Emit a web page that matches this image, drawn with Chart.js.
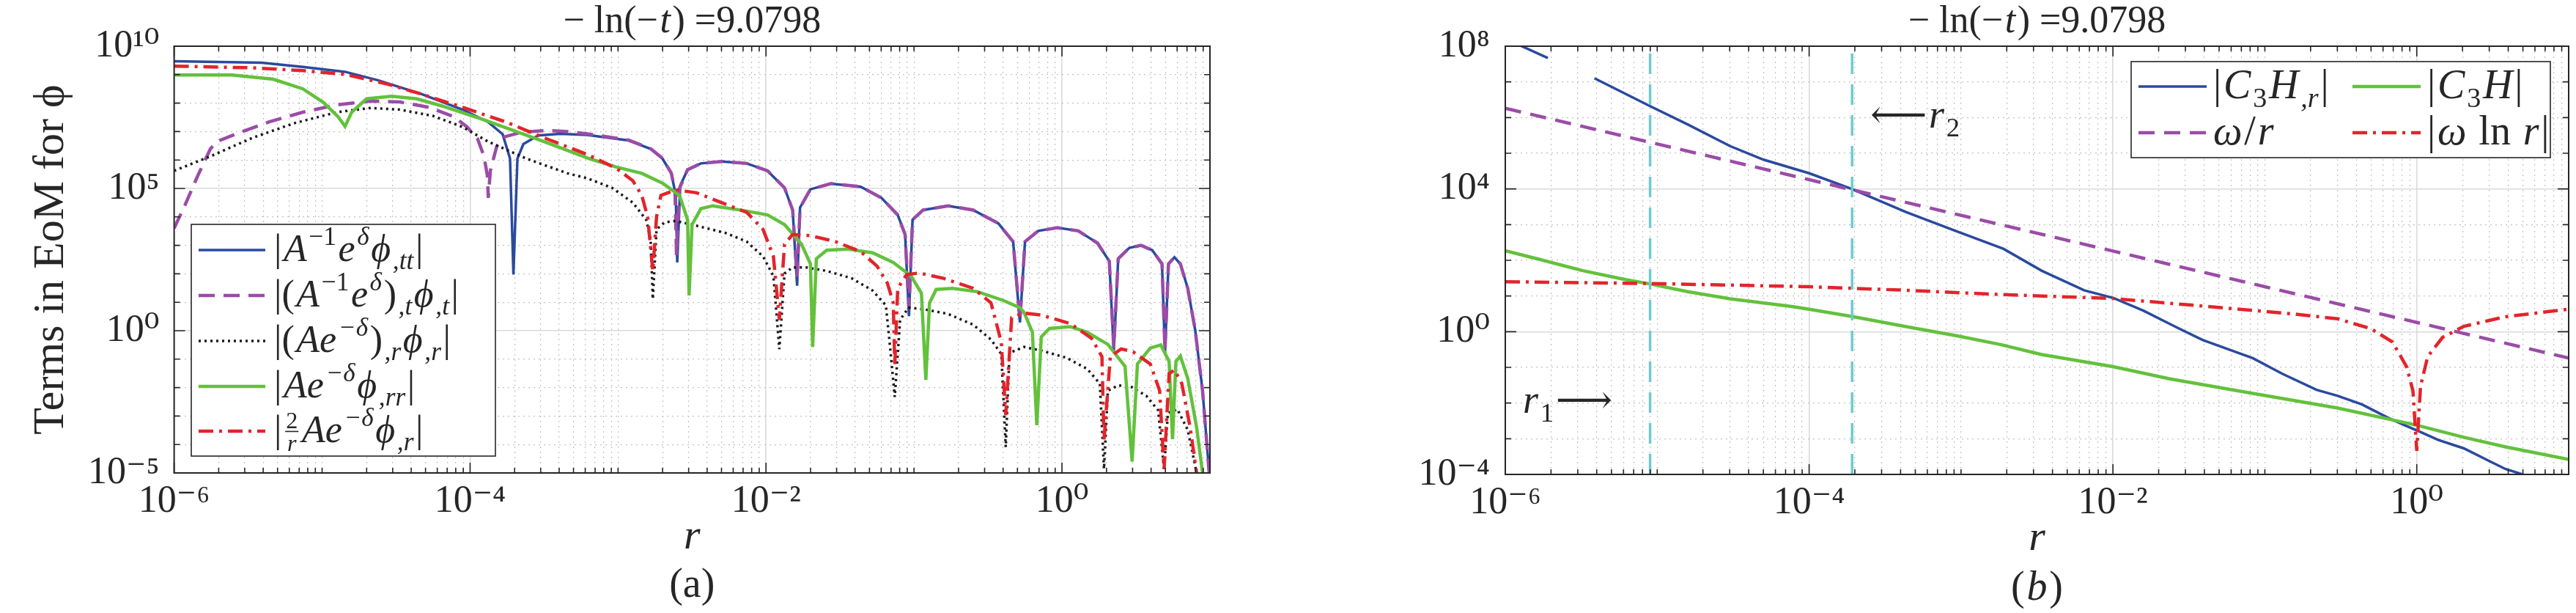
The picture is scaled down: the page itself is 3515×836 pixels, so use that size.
<!DOCTYPE html>
<html>
<head>
<meta charset="utf-8">
<script src="https://cdn.jsdelivr.net/npm/chart.js@4.4.0/dist/chart.umd.min.js"></script>
<style>
  html, body { margin: 0; padding: 0; background: #fff; }
  #wrap { position: relative; width: 3515px; height: 836px; overflow: hidden; }
  canvas { position: absolute; top: 0; }
</style>
</head>
<body>
<div id="wrap">
  <canvas id="chartA" width="1760" height="836" style="left:0"></canvas>
  <canvas id="chartB" width="1755" height="836" style="left:1760px"></canvas>
</div>
<script>
const INK = '#262626';
const SERIF = '"Liberation Serif", "DejaVu Serif", "DejaVu Sans", serif';
const MAJOR = '#dadada';
const MINOR = '#c2c2c2';

// tick labels (decade exponents that carry a label)
const xTickExp = [-6, -4, -2, 0];
const yTickExpA = [-5, 0, 5, 10];
const yTickExpB = [-4, 0, 4, 8];

// ---- panel (a): pairs of [log10 r, log10 |term|] ----
const tPhiTT = [[-6, 9.47], [-5.41, 9.42], [-5.13, 9.27], [-4.845, 9.10], [-4.62, 8.80], [-4.33, 8.32],
  [-4.05, 7.77], [-3.88, 7.34], [-3.78, 6.91], [-3.73, 6.05], [-3.707, 1.97], [-3.68, 6.05], [-3.64, 6.56],
  [-3.54, 6.86], [-3.39, 6.92], [-3.21, 6.88], [-2.93, 6.69], [-2.78, 6.39], [-2.70, 6.05], [-2.64, 5.53],
  [-2.61, 4.76], [-2.60, 2.40], [-2.58, 5.10], [-2.53, 5.66], [-2.44, 5.88], [-2.30, 5.95], [-2.13, 5.88],
  [-1.99, 5.62], [-1.875, 5.02], [-1.82, 4.24], [-1.79, 1.58], [-1.77, 4.33], [-1.70, 4.97], [-1.56, 5.17],
  [-1.36, 5.06], [-1.22, 4.67], [-1.11, 4.07], [-1.06, 3.38], [-1.034, 0.51], [-1.01, 3.90], [-0.94, 4.24],
  [-0.77, 4.39], [-0.60, 4.24], [-0.43, 3.77], [-0.33, 3.13], [-0.284, 0.29], [-0.25, 3.13], [-0.16, 3.51],
  [-0.03, 3.62], [0.11, 3.51], [0.24, 3.08], [0.32, 2.44], [0.35, -0.74], [0.38, 2.53], [0.455, 2.91],
  [0.534, 3.0], [0.61, 2.83], [0.676, 2.35], [0.696, -0.78], [0.72, 2.35], [0.76, 2.58], [0.80, 2.35],
  [0.85, 1.49], [0.90, 0.03], [0.95, -2.11], [0.995, -5]];

const tA1edT = [[-6, 3.60], [-5.926, 4.42], [-5.84, 5.45], [-5.755, 6.39], [-5.71, 6.65], [-5.585, 6.91],
  [-5.357, 7.34], [-5.13, 7.68], [-4.90, 7.94], [-4.674, 8.07], [-4.475, 8.04], [-4.276, 7.85],
  [-4.105, 7.51], [-4.02, 7.16], [-3.949, 6.74], [-3.906, 6.13], [-3.883, 5.45], [-3.877, 4.67],
  [-3.863, 5.62], [-3.82, 6.48], [-3.764, 6.82], [-3.65, 6.98], [-3.48, 7.04], [-3.34, 7.0], [-3.21, 6.92],
  [-2.93, 6.70], [-2.78, 6.40], [-2.70, 6.06], [-2.64, 5.54], [-2.615, 4.9], [-2.605, 2.65], [-2.585, 5.0],
  [-2.53, 5.66], [-2.44, 5.88], [-2.30, 5.95], [-2.13, 5.88], [-1.99, 5.62], [-1.875, 5.02], [-1.82, 4.24],
  [-1.79, 1.9], [-1.77, 4.33], [-1.70, 4.97], [-1.56, 5.17], [-1.36, 5.06], [-1.22, 4.67], [-1.11, 4.07],
  [-1.06, 3.38], [-1.034, 0.81], [-1.01, 3.90], [-0.94, 4.24], [-0.77, 4.39], [-0.60, 4.24], [-0.43, 3.77],
  [-0.33, 3.13], [-0.284, 0.35], [-0.25, 3.13], [-0.16, 3.51], [-0.03, 3.62], [0.11, 3.51], [0.24, 3.08],
  [0.32, 2.44], [0.35, -0.6], [0.38, 2.53], [0.455, 2.91], [0.534, 3.0], [0.61, 2.83], [0.676, 2.35],
  [0.696, -0.7], [0.72, 2.35], [0.76, 2.58], [0.80, 2.35], [0.85, 1.49], [0.90, 0.03], [0.95, -2.11],
  [0.995, -5]];

const tAedR = [[-6, 5.62], [-5.755, 6.13], [-5.47, 6.78], [-5.19, 7.29], [-4.90, 7.68], [-4.67, 7.83],
  [-4.475, 7.77], [-4.25, 7.55], [-4.05, 7.16], [-3.88, 6.65], [-3.62, 6.05], [-3.34, 5.53], [-3.21, 5.36],
  [-3.04, 5.02], [-2.90, 4.50], [-2.81, 3.90], [-2.78, 3.21], [-2.765, 1.11], [-2.74, 3.56], [-2.685, 3.81],
  [-2.61, 3.86], [-2.47, 3.69], [-2.27, 3.43], [-2.13, 3.13], [-2.02, 2.61], [-1.95, 1.92], [-1.91, -0.65],
  [-1.875, 2.01], [-1.82, 2.225], [-1.73, 2.225], [-1.59, 2.10], [-1.42, 1.84], [-1.28, 1.41], [-1.19, 0.89],
  [-1.165, -0.40], [-1.13, -2.33], [-1.094, 0.38], [-1.037, 0.81], [-0.94, 0.76], [-0.77, 0.59],
  [-0.60, 0.21], [-0.48, -0.31], [-0.41, -0.82], [-0.38, -4.09], [-0.355, -0.78], [-0.256, -0.57],
  [-0.14, -0.70], [0.03, -0.95], [0.17, -1.34], [0.256, -1.86], [0.284, -4.86], [0.31, -2.11], [0.38, -1.92],
  [0.47, -1.98], [0.57, -2.29], [0.65, -2.80], [0.69, -4.86], [0.716, -2.89], [0.78, -2.76], [0.85, -3.49],
  [0.91, -5]];

const tPhiRR = [[-6, 8.99], [-5.61, 8.99], [-5.33, 8.84], [-5.13, 8.50], [-4.99, 8.02], [-4.89, 7.51],
  [-4.845, 7.18], [-4.80, 7.68], [-4.70, 8.15], [-4.53, 8.24], [-4.36, 8.15], [-4.19, 7.90], [-3.91, 7.42],
  [-3.48, 6.61], [-3.195, 6.05], [-3.01, 5.75], [-2.84, 5.53], [-2.70, 5.19], [-2.585, 4.76], [-2.53, 3.90],
  [-2.52, 1.24], [-2.50, 3.73], [-2.44, 4.29], [-2.36, 4.39], [-2.16, 4.23], [-1.99, 4.07], [-1.875, 3.73],
  [-1.76, 3.04], [-1.70, 2.35], [-1.685, -0.57], [-1.66, 2.53], [-1.59, 2.83], [-1.45, 2.87], [-1.28, 2.74],
  [-1.14, 2.40], [-1.02, 1.92], [-0.95, 1.32], [-0.92, -1.73], [-0.895, 0.98], [-0.85, 1.45], [-0.74, 1.49],
  [-0.57, 1.37], [-0.40, 1.07], [-0.284, 0.81], [-0.256, 0.64], [-0.20, -0.05], [-0.17, -3.32],
  [-0.14, -0.22], [-0.085, 0.08], [0.057, 0.14], [0.17, -0.05], [0.31, -0.48], [0.426, -1.25],
  [0.474, -4.60], [0.51, -1.17], [0.597, -0.61], [0.668, -0.50], [0.724, -1.08], [0.747, -3.81],
  [0.77, -1.08], [0.80, -0.89], [0.85, -1.68], [0.91, -3.40], [0.95, -5]];

const tPhiR2 = [[-6, 9.30], [-5.47, 9.24], [-5.13, 9.14], [-4.845, 9.01], [-4.56, 8.67], [-4.33, 8.32],
  [-4.05, 7.85], [-3.76, 7.34], [-3.48, 6.74], [-3.21, 6.2], [-3.01, 5.70], [-2.90, 5.27], [-2.84, 4.76],
  [-2.80, 4.0], [-2.765, 2.10], [-2.74, 4.0], [-2.71, 4.76], [-2.61, 4.95], [-2.47, 4.85], [-2.30, 4.50],
  [-2.13, 4.16], [-2.02, 3.56], [-1.95, 2.61], [-1.91, 0.38], [-1.875, 3.04], [-1.82, 3.38], [-1.70, 3.34],
  [-1.53, 3.13], [-1.36, 2.78], [-1.25, 2.27], [-1.18, 1.67], [-1.14, 0.98], [-1.13, -1.25], [-1.11, 1.49],
  [-1.05, 1.97], [-0.966, 2.03], [-0.80, 1.84], [-0.60, 1.49], [-0.48, 0.98], [-0.41, -0.40],
  [-0.38, -2.97], [-0.34, 0.46], [-0.256, 0.62], [-0.14, 0.55], [0.057, 0.25], [0.20, -0.27], [0.27, -0.91],
  [0.284, -3.83], [0.327, -0.91], [0.40, -0.64], [0.48, -0.74], [0.597, -1.17], [0.66, -2.11],
  [0.69, -4.86], [0.724, -1.51], [0.76, -1.38], [0.81, -1.86], [0.866, -3.40], [0.91, -5]];

// ---- panel (b) ----
const c3hr = [[-6, 8.21], [-5.892, 8.0], [-5.72, 7.67], [-5.6, null], [-5.413, 7.10], [-5.047, 6.32],
  [-4.80, 5.81], [-4.52, 5.20], [-4.30, 4.82], [-4.0, 4.44], [-3.72, 4.0], [-3.36, 3.35], [-3.02, 2.80],
  [-2.72, 2.32], [-2.47, 1.71], [-2.19, 1.16], [-1.994, 0.94], [-1.80, 0.59], [-1.58, 0.12], [-1.41, -0.23],
  [-1.19, -0.57], [-1.08, -0.74], [-0.885, -1.18], [-0.66, -1.63], [-0.52, -1.80], [-0.36, -2.04],
  [-0.19, -2.41], [-0.08, -2.62], [0.03, -2.82], [0.14, -3.03], [0.31, -3.27], [0.47, -3.61],
  [0.585, -3.85], [0.696, -4.0]];
const c3h = [[-6, 2.27], [-5.77, 2.02], [-5.49, 1.71], [-5.21, 1.46], [-5.05, 1.34], [-4.80, 1.12],
  [-4.52, 0.92], [-4.105, 0.70], [-4.0, 0.63], [-3.72, 0.43], [-3.36, 0.14], [-3.02, -0.12], [-2.74, -0.36],
  [-2.47, -0.64], [-2.0, -0.98], [-1.63, -1.32], [-1.08, -1.73], [-0.52, -2.14], [0, -2.62], [0.31, -2.96],
  [0.585, -3.23], [1.0, -3.58]];
const omegaOverR = [[-6, 6.26], [-2, 2.26], [1, -0.74]];
const omegaLnR = [[-6, 1.40], [-5.05, 1.35], [-4.0, 1.26], [-3.36, 1.16], [-2.74, 1.04], [-2.0, 0.93],
  [-1.36, 0.70], [-0.80, 0.49], [-0.52, 0.36], [-0.30, 0.08], [-0.16, -0.29], [-0.067, -0.98],
  [-0.025, -1.66], [0, -3.34], [0.025, -1.52], [0.072, -0.70], [0.17, -0.16], [0.31, 0.15], [0.585, 0.42],
  [0.86, 0.56], [1.0, 0.63]];
const r1Line = [[-5.047, -4], [-5.047, 8]];
const r2Line = [[-3.717, -4], [-3.717, 8]];

const titleParts = [['\u2212 ln(\u2212', 'r'], ['t', 'i'], [') =9.0798', 'r']];

// ---- helpers ----
function toPts(arr) {
  return arr.map(p => ({ x: Math.pow(10, p[0]), y: p[1] === null ? null : Math.pow(10, p[1]) }));
}
function isExp(v, list) {
  const e = Math.log10(v);
  return list.some(n => Math.abs(e - n) < 1e-6);
}
const SUP = { '-': '\u207B', '0': '\u2070', '1': '\u00B9', '2': '\u00B2', '3': '\u00B3', '4': '\u2074',
  '5': '\u2075', '6': '\u2076', '7': '\u2077', '8': '\u2078', '9': '\u2079' };
function tenTo(e) {
  return '10' + String(e).split('').map(c => SUP[c]).join('');
}
function minorTicks(lo, hi) {
  const out = [];
  for (let k = lo; k < hi; k++) for (let m = 1; m < 10; m++) out.push(m * Math.pow(10, k));
  out.push(Math.pow(10, hi));
  return out;
}
function decadeTicks(lo, hi) {
  const out = [];
  for (let k = lo; k <= hi; k++) out.push(Math.pow(10, k));
  return out;
}

function gridOpts(labelled) {
  return {
    drawTicks: false,
    color: c => (c.tick && isExp(c.tick.value, labelled)) ? MAJOR : MINOR,
    lineWidth: c => (c.tick && isExp(c.tick.value, labelled)) ? 1.6 : 1.2
  };
}
function borderOpts(labelled) {
  return { display: false, dash: c => (c.tick && !isExp(c.tick.value, labelled)) ? [2, 5] : [] };
}

function xAxis() {
  return {
    type: 'logarithmic', min: 1e-6, max: 10,
    afterBuildTicks: s => { s.ticks = minorTicks(-6, 1).map(v => ({ value: v })); },
    afterFit: s => { s.height = 100; },
    ticks: {
      autoSkip: false, maxRotation: 0, minRotation: 0, padding: 8, color: INK,
      font: { family: SERIF, size: 52 },
      callback: v => isExp(v, xTickExp) ? tenTo(Math.round(Math.log10(v))) : ''
    },
    grid: gridOpts(xTickExp),
    border: borderOpts(xTickExp)
  };
}
function yAxis(lo, hi, labelled, pad) {
  return {
    type: 'logarithmic', min: Math.pow(10, lo), max: Math.pow(10, hi),
    afterBuildTicks: s => { s.ticks = decadeTicks(lo, hi).map(v => ({ value: v })); },
    afterFit: s => { s.width = 120; },
    ticks: {
      autoSkip: false, padding: pad, color: INK,
      font: { family: SERIF, size: 52 },
      callback: v => isExp(v, labelled) ? tenTo(Math.round(Math.log10(v))) : ''
    },
    grid: gridOpts(labelled),
    border: borderOpts(labelled)
  };
}

// rich text: parts [text, kind] kind r|i|pr|pi|br|bi|f
function partFont(kind, size) {
  const small = kind !== 'r' && kind !== 'i';
  const s = small ? size * 0.68 : size;
  const it = kind === 'i' || kind === 'pi' || kind === 'bi';
  return { font: (it ? 'italic ' : '') + s + 'px ' + SERIF, s };
}
function partWidth(ctx, p, size) {
  if (p[1] === 'f') {
    const s = size * 0.62;
    ctx.font = s + 'px ' + SERIF;
    const a = ctx.measureText(p[0][0]).width;
    ctx.font = 'italic ' + s + 'px ' + SERIF;
    const b = ctx.measureText(p[0][1]).width;
    return Math.max(a, b) + size * 0.12;
  }
  ctx.font = partFont(p[1], size).font;
  return ctx.measureText(p[0]).width;
}
function drawRich(ctx, parts, x, y, size, align, color) {
  const gap = size * 0.05;
  let total = 0;
  parts.forEach(p => { total += partWidth(ctx, p, size) + gap; });
  total -= gap;
  let cx = align === 'center' ? x - total / 2 : x;
  ctx.save();
  ctx.fillStyle = color || INK;
  ctx.strokeStyle = color || INK;
  ctx.textAlign = 'left';
  ctx.textBaseline = 'alphabetic';
  parts.forEach(p => {
    const w = partWidth(ctx, p, size);
    if (p[1] === 'f') {
      const s = size * 0.62;
      ctx.font = s + 'px ' + SERIF;
      ctx.textAlign = 'center';
      ctx.fillText(p[0][0], cx + w / 2, y - size * 0.36);
      ctx.font = 'italic ' + s + 'px ' + SERIF;
      ctx.fillText(p[0][1], cx + w / 2, y + size * 0.24);
      ctx.textAlign = 'left';
      ctx.lineWidth = 1.6;
      ctx.beginPath();
      ctx.moveTo(cx + size * 0.04, y - size * 0.28);
      ctx.lineTo(cx + w - size * 0.04, y - size * 0.28);
      ctx.stroke();
    } else {
      const f = partFont(p[1], size);
      ctx.font = f.font;
      let dy = 0;
      if (p[1] === 'pr' || p[1] === 'pi') dy = -size * 0.42;
      if (p[1] === 'br' || p[1] === 'bi') dy = size * 0.22;
      ctx.fillText(p[0], cx, y + dy);
    }
    cx += w + gap;
  });
  ctx.restore();
}

function strokeSample(ctx, ds, x1, x2, y) {
  ctx.save();
  ctx.strokeStyle = ds.borderColor;
  ctx.lineWidth = ds.borderWidth;
  ctx.setLineDash(ds.borderDash || []);
  ctx.beginPath();
  ctx.moveTo(x1, y);
  ctx.lineTo(x2, y);
  ctx.stroke();
  ctx.restore();
}

// frame with inward ticks on all four sides
function makeFrame(yLabelled) {
  return {
    id: 'frame',
    afterDraw(chart) {
      const { ctx, chartArea: a, scales: { x, y } } = chart;
      ctx.save();
      ctx.strokeStyle = INK;
      ctx.lineWidth = 1.6;
      ctx.beginPath();
      x.ticks.forEach(t => {
        const px = x.getPixelForValue(t.value);
        const len = isExp(t.value, xTickExp) ? 14 : 7;
        ctx.moveTo(px, a.bottom); ctx.lineTo(px, a.bottom - len);
        ctx.moveTo(px, a.top); ctx.lineTo(px, a.top + len);
      });
      y.ticks.forEach(t => {
        const py = y.getPixelForValue(t.value);
        const len = isExp(t.value, yLabelled) ? 15 : 8;
        ctx.moveTo(a.left, py); ctx.lineTo(a.left + len, py);
        ctx.moveTo(a.right, py); ctx.lineTo(a.right - len, py);
      });
      ctx.stroke();
      ctx.lineWidth = 2;
      ctx.strokeRect(a.left, a.top, a.right - a.left, a.bottom - a.top);
      ctx.restore();
    }
  };
}

const BLUE = '#2a4a9e', PURPLE = '#9b4ca7', BLACK = '#1a1a1a', GREEN = '#63c13c', RED = '#e3242b', CYAN = '#6fcad0';

function line(label, arr, color, width, dash, order) {
  return {
    label: label, data: toPts(arr), borderColor: color, borderWidth: width, borderDash: dash,
    pointRadius: 0, tension: 0, fill: false, spanGaps: false, order: order
  };
}

// ---------- panel (a) ----------
const legendA = [
  [['|', 'r'], ['A', 'i'], ['\u22121', 'pr'], ['e', 'i'], ['\u03B4', 'pi'], ['\u03D5', 'i'], [',tt', 'bi'], ['|', 'r']],
  [['|(', 'r'], ['A', 'i'], ['\u22121', 'pr'], ['e', 'i'], ['\u03B4', 'pi'], [')', 'r'], [',t', 'bi'], ['\u03D5', 'i'], [',t', 'bi'], ['|', 'r']],
  [['|(', 'r'], ['Ae', 'i'], ['\u2212\u03B4', 'pi'], [')', 'r'], [',r', 'bi'], ['\u03D5', 'i'], [',r', 'bi'], ['|', 'r']],
  [['|', 'r'], ['Ae', 'i'], ['\u2212\u03B4', 'pi'], ['\u03D5', 'i'], [',rr', 'bi'], ['|', 'r']],
  [['|', 'r'], [['2', 'r'], 'f'], ['Ae', 'i'], ['\u2212\u03B4', 'pi'], ['\u03D5', 'i'], [',r', 'bi'], ['|', 'r']]
];

const textA = {
  id: 'textA',
  afterDraw(chart) {
    const { ctx, chartArea: a } = chart;
    const mid = (a.left + a.right) / 2;
    drawRich(ctx, titleParts, mid, 44, 52, 'center');
    drawRich(ctx, [['r', 'i']], mid, 748, 58, 'center');
    drawRich(ctx, [['(a)', 'r']], mid, 814, 56, 'center');
    ctx.save();
    ctx.translate(86, (a.top + a.bottom) / 2);
    ctx.rotate(-Math.PI / 2);
    ctx.font = '60px ' + SERIF;
    ctx.fillStyle = INK;
    ctx.textAlign = 'center';
    ctx.textBaseline = 'alphabetic';
    ctx.fillText('Terms in EoM for \u03D5', 0, 0);
    ctx.restore();
    // legend
    ctx.save();
    ctx.fillStyle = '#fff';
    ctx.fillRect(261, 306, 415, 316);
    ctx.strokeStyle = INK;
    ctx.lineWidth = 1.6;
    ctx.strokeRect(261, 306, 415, 316);
    ctx.restore();
    const rows = [341, 403, 465, 527, 588];
    legendA.forEach((parts, i) => {
      strokeSample(ctx, chart.data.datasets[i], 271, 362, rows[i]);
      drawRich(ctx, parts, 374, rows[i] + 15, 52, 'left');
    });
  }
};

new Chart(document.getElementById('chartA'), {
  type: 'line',
  data: {
    datasets: [
      line('phi_tt', tPhiTT, BLUE, 3.5, [], 5),
      line('(A^-1 e^d)_t phi_t', tA1edT, PURPLE, 4.5, [22, 12], 4),
      line('(A e^-d)_r phi_r', tAedR, BLACK, 3.5, [3, 5], 3),
      line('A e^-d phi_rr', tPhiRR, GREEN, 4.5, [], 2),
      line('2/r A e^-d phi_r', tPhiR2, RED, 4.5, [20, 8, 4, 8], 1)
    ]
  },
  options: {
    responsive: false, devicePixelRatio: 1, animation: false, events: [],
    layout: { padding: { left: 117.6, right: 109, top: 63, bottom: 91 } },
    plugins: { legend: { display: false }, tooltip: { enabled: false } },
    scales: { x: xAxis(), y: yAxis(-5, 10, yTickExpA, 20) }
  },
  plugins: [makeFrame(yTickExpA), textA]
});

// ---------- panel (b) ----------
const legendB = [
  [['|', 'r'], ['C', 'i'], ['3', 'br'], ['H', 'i'], [',r', 'bi'], ['|', 'r']],
  [['|', 'r'], ['C', 'i'], ['3', 'br'], ['H', 'i'], ['|', 'r']],
  [['\u03C9', 'i'], ['/', 'r'], ['r', 'i']],
  [['|', 'r'], ['\u03C9', 'i'], [' ln ', 'r'], ['r', 'i'], ['|', 'r']]
];

const textB = {
  id: 'textB',
  afterDraw(chart) {
    const { ctx, chartArea: a } = chart;
    const mid = (a.left + a.right) / 2;
    drawRich(ctx, titleParts, mid, 44, 52, 'center');
    drawRich(ctx, [['r', 'i']], mid, 750, 58, 'center');
    drawRich(ctx, [['(', 'r'], ['b', 'i'], [')', 'r']], mid, 818, 56, 'center');
    drawRich(ctx, [['\u27F5', 'r'], ['r', 'i'], ['2', 'br']], 792, 174, 54, 'left');
    drawRich(ctx, [['r', 'i'], ['1', 'br'], ['\u27F6', 'r']], 318, 563, 54, 'left');
    // legend
    ctx.save();
    ctx.fillStyle = '#fff';
    ctx.fillRect(1148, 84, 572, 131);
    ctx.strokeStyle = INK;
    ctx.lineWidth = 1.6;
    ctx.strokeRect(1148, 84, 572, 131);
    ctx.restore();
    const cells = [[1158, 118], [1450, 118], [1158, 181], [1450, 181]];
    legendB.forEach((parts, i) => {
      const c = cells[i];
      strokeSample(ctx, chart.data.datasets[i], c[0], c[0] + 93, c[1]);
      drawRich(ctx, parts, c[0] + 102, c[1] + 16, 56, 'left');
    });
  }
};

new Chart(document.getElementById('chartB'), {
  type: 'line',
  data: {
    datasets: [
      line('C3H_r', c3hr, BLUE, 3.5, [], 4),
      line('C3H', c3h, GREEN, 4.5, [], 3),
      line('omega/r', omegaOverR, PURPLE, 4.5, [22, 13], 2),
      line('omega ln r', omegaLnR, RED, 4.5, [20, 8, 4, 8], 1),
      line('r1', r1Line, CYAN, 3.5, [28, 14], 0),
      line('r2', r2Line, CYAN, 3.5, [28, 14], 0)
    ]
  },
  options: {
    responsive: false, devicePixelRatio: 1, animation: false, events: [],
    layout: { padding: { left: 174, right: 10, top: 63, bottom: 89 } },
    plugins: { legend: { display: false }, tooltip: { enabled: false } },
    scales: { x: xAxis(), y: yAxis(-4, 8, yTickExpB, 21) }
  },
  plugins: [makeFrame(yTickExpB), textB]
});
</script>
</body>
</html>
